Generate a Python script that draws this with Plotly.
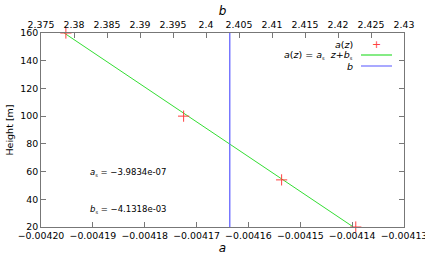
import plotly.graph_objects as go

# data
height_z = [160, 100, 54, 20]
a_vals = [-0.0041952, -0.0041725, -0.0041536, -0.0041393]
a_s = -3.9834e-07
b_s = -4.1318e-03
fit_z = [20, 160]
b_val = 2.4036
a_ticks = [-0.0042, -0.00419, -0.00418, -0.00417, -0.00416, -0.00415, -0.00414, -0.00413]
a_ticklabels = ["−0.00420", "−0.00419", "−0.00418", "−0.00417", "−0.00416", "−0.00415", "−0.00414", "−0.00413"]
b_ticks = [2.375, 2.38, 2.385, 2.39, 2.395, 2.4, 2.405, 2.41, 2.415, 2.42, 2.425, 2.43]
b_ticklabels = ["2.375", "2.38", "2.385", "2.39", "2.395", "2.4", "2.405", "2.41", "2.415", "2.42", "2.425", "2.43"]
y_ticks = [20, 40, 60, 80, 100, 120, 140, 160]

fit_a = [a_s * z + b_s for z in fit_z]

FONT = "DejaVu Sans"
AX = "#777777"
W, H = 425, 257
L, R, T, B = 41, 21, 33, 30
pw, ph = W - L - R, H - T - B

def px(x):
    return (x - L) / pw

def py(y):
    return (H - B - y) / ph

eps_a = 1e-10
eps_b = 1e-7
GREEN = "#33dd33"
BLUE = "#6f6fff"
RED = "#ff4040"

fig = go.Figure()
fig.add_trace(go.Scatter(x=fit_a, y=fit_z, mode="lines", line=dict(color=GREEN, width=1),
                         showlegend=False, xaxis="x", yaxis="y"))
fig.add_trace(go.Scatter(x=a_vals, y=height_z, mode="markers",
                         marker=dict(symbol="cross-thin", size=8, line=dict(color=RED, width=1)),
                         cliponaxis=False, showlegend=False, xaxis="x", yaxis="y"))
fig.add_trace(go.Scatter(x=[b_val, b_val], y=[20, 160], mode="lines", line=dict(color=BLUE, width=1.4),
                         showlegend=False, xaxis="x2", yaxis="y"))

tickfont = dict(family=FONT, size=9.4, color="#000")
fig.update_layout(
    width=W, height=H, margin=dict(l=L, r=R, t=T, b=B, autoexpand=False),
    paper_bgcolor="white", plot_bgcolor="white",
    font=dict(family=FONT, size=10, color="#000"),
    xaxis=dict(range=[-0.0042 - eps_a, -0.00413 + eps_a], tickvals=a_ticks, ticktext=a_ticklabels,
               tickangle=0, ticklabeloverflow="allow", automargin=False, ticks="inside", ticklen=5,
               tickcolor=AX, showgrid=False, zeroline=False,
               showline=True, linecolor=AX, linewidth=1, mirror=False, tickfont=tickfont,
               title=dict(text="<i>a</i>", font=dict(family=FONT, size=12), standoff=3)),
    xaxis2=dict(range=[2.375 - eps_b, 2.43 + eps_b], tickvals=b_ticks, ticktext=b_ticklabels, overlaying="x",
                side="top", anchor="y", tickangle=0, ticklabeloverflow="allow", automargin=False,
                ticks="inside", ticklen=5, tickcolor=AX, showgrid=False,
                zeroline=False, showline=True, linecolor=AX, linewidth=1, tickfont=tickfont,
                title=dict(text="<i>b</i>", font=dict(family=FONT, size=12), standoff=1)),
    yaxis=dict(range=[20, 160], tickvals=y_ticks, ticks="inside", ticklen=5, tickcolor=AX,
               showgrid=False, zeroline=False, showline=True, linecolor=AX, linewidth=1,
               mirror="ticks", tickfont=tickfont, ticklabeloverflow="allow", automargin=False,
               title=dict(text="Height [m]", font=dict(family=FONT, size=9.5), standoff=4)),
)

SUB = "<sub><span style='font-size:5px'>s</span></sub>"
rows = [("<i>a</i>(<i>z</i>)", 44, "marker"),
        ("<i>a</i>(<i>z</i>) = <i>a</i>" + SUB + "  <i>z</i>+<i>b</i>" + SUB, 55, GREEN),
        ("<i>b</i>", 66, BLUE)]
for text, yy, kind in rows:
    fig.add_annotation(x=px(355), y=py(yy), xref="paper", yref="paper", text=text, showarrow=False,
                       xanchor="right", yanchor="middle", font=dict(family=FONT, size=9.5))
    if kind == "marker":
        fig.add_annotation(x=px(376), y=py(yy), xref="paper", yref="paper", text="+", showarrow=False,
                           xanchor="center", yanchor="middle", font=dict(family=FONT, size=11, color=RED))
    else:
        fig.add_shape(type="line", xref="paper", yref="paper", x0=px(361), x1=px(392), y0=py(yy), y1=py(yy),
                      line=dict(color=kind, width=1.2))

fig.add_annotation(x=px(88), y=py(172), xref="paper", yref="paper",
                   text="<i>a</i>" + SUB + " = −3.9834e-07", showarrow=False,
                   xanchor="left", yanchor="middle", font=dict(family=FONT, size=8.5))
fig.add_annotation(x=px(88), y=py(209), xref="paper", yref="paper",
                   text="<i>b</i>" + SUB + " = −4.1318e-03", showarrow=False,
                   xanchor="left", yanchor="middle", font=dict(family=FONT, size=8.5))

fig.write_html("out.html")
